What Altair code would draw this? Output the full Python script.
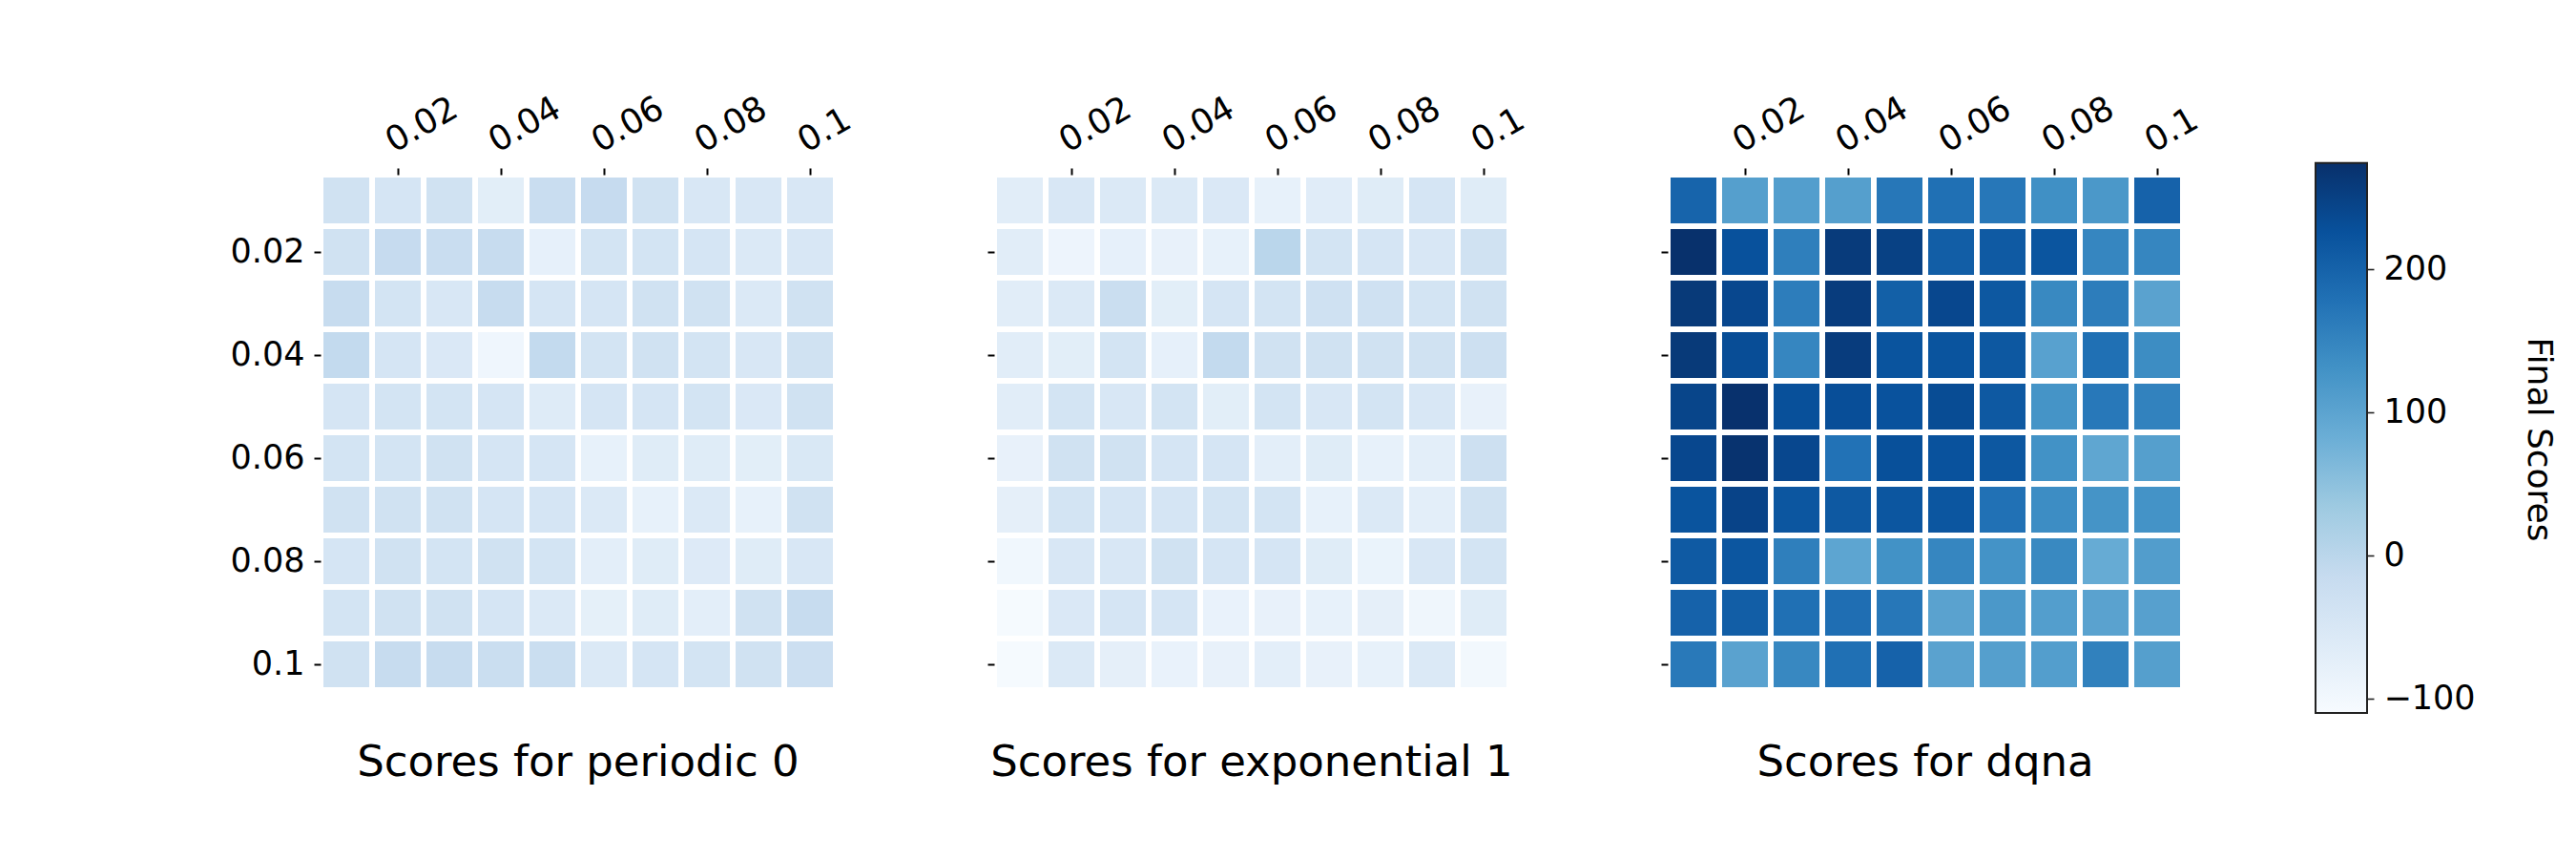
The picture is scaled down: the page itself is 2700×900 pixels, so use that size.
import altair as alt
import pandas as pd

# ---- data -------------------------------------------------------------
params = ["0.01", "0.02", "0.03", "0.04", "0.05", "0.06", "0.07", "0.08", "0.09", "0.1"]
tick_labels = ["0.02", "0.04", "0.06", "0.08", "0.1"]

periodic_0 = [
    [-34, -44, -34, -70, -20, -14, -34, -50, -50, -50],
    [-34, -14, -20, -16, -78, -40, -40, -44, -56, -50],
    [-16, -40, -50, -16, -44, -44, -34, -34, -56, -34],
    [-10, -44, -54, -95, -10, -40, -34, -40, -50, -34],
    [-44, -40, -40, -44, -62, -44, -44, -40, -54, -34],
    [-40, -40, -34, -44, -44, -80, -64, -64, -70, -52],
    [-34, -34, -34, -44, -44, -56, -80, -56, -80, -34],
    [-44, -34, -40, -34, -40, -72, -64, -60, -64, -50],
    [-40, -34, -34, -44, -56, -76, -64, -72, -34, -16],
    [-34, -16, -16, -22, -22, -56, -44, -40, -34, -26],
]

exponential_1 = [
    [-68, -50, -56, -56, -54, -79, -66, -64, -44, -64],
    [-68, -90, -77, -81, -79, 0, -40, -44, -50, -34],
    [-68, -56, -22, -70, -44, -40, -32, -32, -40, -34],
    [-68, -70, -40, -77, -10, -34, -34, -34, -34, -28],
    [-68, -40, -50, -40, -70, -40, -50, -40, -50, -81],
    [-81, -34, -34, -44, -44, -72, -64, -79, -72, -28],
    [-75, -40, -44, -44, -40, -40, -79, -56, -72, -34],
    [-97, -50, -50, -34, -44, -44, -64, -85, -50, -40],
    [-106, -54, -44, -44, -83, -81, -79, -75, -94, -64],
    [-106, -56, -75, -83, -81, -72, -81, -79, -56, -100],
]

dqna = [
    [198, 108, 110, 108, 170, 180, 170, 133, 120, 200],
    [273, 226, 158, 258, 250, 207, 212, 220, 148, 147],
    [260, 240, 160, 256, 204, 240, 216, 143, 160, 102],
    [260, 232, 147, 256, 222, 222, 216, 104, 180, 138],
    [244, 272, 228, 230, 225, 234, 214, 127, 168, 153],
    [240, 270, 240, 176, 228, 225, 216, 130, 96, 108],
    [222, 246, 218, 214, 218, 218, 178, 137, 127, 128],
    [212, 218, 158, 98, 130, 148, 128, 143, 88, 111],
    [200, 206, 180, 182, 169, 102, 120, 110, 102, 106],
    [166, 102, 145, 180, 200, 102, 108, 110, 155, 108],
]

panel_titles = ["Scores for periodic 0", "Scores for exponential 1", "Scores for dqna"]
colorbar_ticks = [-100, 0, 100, 200]
colorbar_range = {"lo": [-110], "hi": [274]}

# matplotlib "Blues" stops
blues = ["#f7fbff", "#deebf7", "#c6dbef", "#9ecae1", "#6baed6",
         "#4292c6", "#2171b5", "#08519c", "#08306b"]
color_stops = [-110, -62, -14, 34, 82, 130, 178, 226, 274]

FONT = "DejaVu Sans"


def to_frame(matrix):
    recs = []
    for i, r in enumerate(params):
        for j, c in enumerate(params):
            recs.append({"row": r, "col": c, "score": matrix[i][j]})
    return pd.DataFrame(recs)


def panel(matrix, title, show_y_labels, wide):
    df = to_frame(matrix)
    if wide:
        xscale = alt.Scale(domain=params, paddingInner=0.111, paddingOuter=0.3055, align=0.0909)
        width, dx = 567, -13.5
    else:
        xscale = alt.Scale(domain=params, paddingInner=0.111, paddingOuter=0.0555)
        width, dx = 540, 0
    yscale = alt.Scale(domain=params, paddingInner=0.111, paddingOuter=0.0555)
    return (
        alt.Chart(
            df,
            title=alt.Title(
                title, orient="bottom", anchor="middle", frame="group",
                fontSize=45, font=FONT, fontWeight="normal", color="black",
                baseline="top", offset=54, dx=dx,
            ),
        )
        .mark_rect()
        .encode(
            x=alt.X(
                "col:O", sort=params, scale=xscale, title=None,
                axis=alt.Axis(
                    orient="top", values=tick_labels, labelAngle=-30,
                    labelAlign="left", labelBaseline="bottom", labelPadding=9,
                    labelFontSize=36, labelFont=FONT, labelColor="black",
                    tickSize=7, tickWidth=2, tickColor="black",
                    domain=False, grid=False, labelOverlap=False,
                ),
            ),
            y=alt.Y(
                "row:O", sort=params, scale=yscale, title=None,
                axis=alt.Axis(
                    orient="left", values=tick_labels, labels=show_y_labels,
                    labelPadding=10, labelFontSize=35, labelFont=FONT,
                    labelColor="black", tickSize=7, tickWidth=2,
                    tickColor="black", domain=False, grid=False,
                    labelOverlap=False,
                ),
            ),
            color=alt.Color(
                "score:Q",
                scale=alt.Scale(domain=color_stops, range=blues, interpolate="rgb"),
                legend=None,
            ),
        )
        .properties(width=width, height=540)
    )


# ---- colour bar ---------------------------------------------------------
n = len(blues)
gradient = alt.LinearGradient(
    gradient="linear",
    stops=[alt.GradientStop(offset=i / (n - 1), color=c) for i, c in enumerate(blues)],
    x1=0, x2=0, y1=1, y2=0,
)

colorbar = (
    alt.Chart(pd.DataFrame(colorbar_range))
    .mark_rect(fill=gradient, stroke="#222222", strokeWidth=2)
    .encode(
        x=alt.value(0),
        x2=alt.value("width"),
        y=alt.Y(
            "lo:Q",
            scale=alt.Scale(domain=[-110, 265.8], nice=False, zero=False),
            axis=alt.Axis(
                orient="right", values=colorbar_ticks, format="d",
                labelFontSize=35, labelFont=FONT, labelColor="black",
                labelPadding=10, tickSize=7, tickWidth=1.6, tickColor="#222222",
                domain=False, grid=False, labelOverlap=False,
                title="Final Scores", titleFontSize=36, titleFont=FONT,
                titleFontWeight="normal", titleColor="black", titleAngle=90,
                titleBaseline="bottom", titlePadding=47, titleY=277,
            ),
        ),
        y2="hi:Q",
    )
    .properties(width=54, height=564)
)

charts = [
    panel(periodic_0, panel_titles[0], True, True),
    panel(exponential_1, panel_titles[1], False, True),
    panel(dqna, panel_titles[2], False, False),
    colorbar,
]

chart = (
    alt.hconcat(*charts, spacing=139, bounds="flush")
    .resolve_scale(x="independent", y="independent", color="shared")
    .properties(padding={"left": 233, "top": 86, "right": 10, "bottom": 10})
    .configure_view(strokeWidth=0)
)

chart.save("out.html", embed_options={"renderer": "svg", "actions": False})
